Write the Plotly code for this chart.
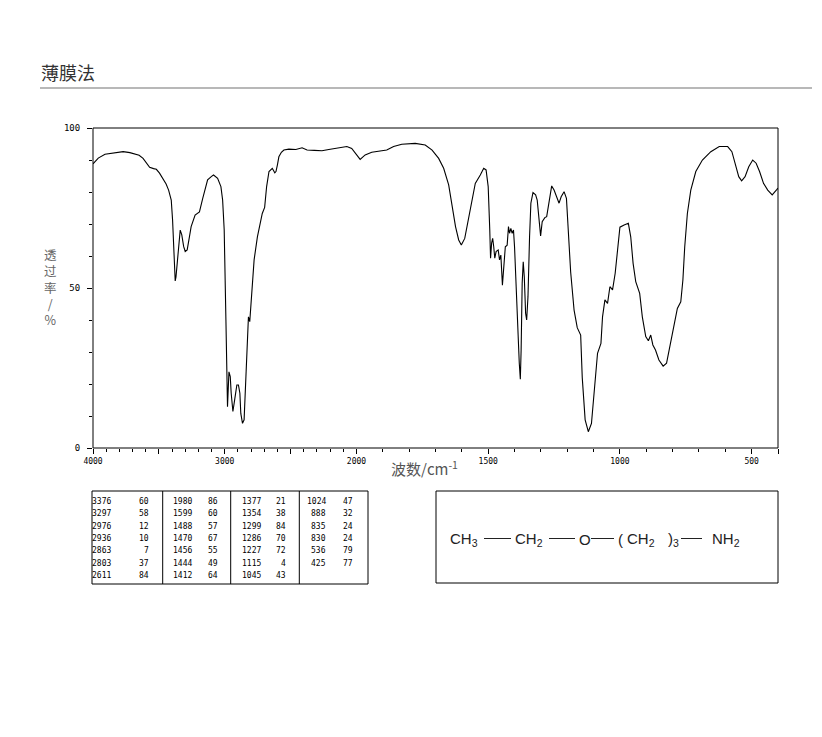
import plotly.graph_objects as go

# IR spectrum (wavenumber cm-1, transmittance %)
wavenumber = [4000, 3990, 3960, 3909, 3840, 3771, 3720, 3683, 3650, 3620,
              3590, 3570, 3540, 3519, 3495, 3469, 3445, 3426, 3406, 3396,
              3386, 3380, 3376, 3370, 3361, 3348, 3338, 3326, 3312, 3300,
              3285, 3270, 3255, 3225, 3192, 3167, 3130, 3100, 3085, 3054,
              3029, 3016, 3004, 2991, 2979, 2968, 2958, 2951, 2938, 2923,
              2908, 2896, 2885, 2878, 2865, 2853, 2840, 2828, 2820, 2810,
              2798, 2777, 2752, 2734, 2715, 2697, 2682, 2664, 2639, 2620,
              2611, 2600, 2589, 2570, 2551, 2513, 2460, 2413, 2375, 2320,
              2262, 2210, 2161, 2110, 2073, 2036, 2010, 1986, 1967, 1942,
              1885, 1859, 1828, 1777, 1739, 1713, 1688, 1669, 1650, 1637,
              1624, 1612, 1602, 1589, 1574, 1559, 1549, 1530, 1517, 1508,
              1500, 1494, 1491, 1487, 1483, 1479, 1475, 1470, 1462, 1457,
              1452, 1446, 1441, 1435, 1428, 1423, 1419, 1414, 1409, 1404,
              1400, 1394, 1387, 1382, 1378, 1375, 1371, 1367, 1363, 1358,
              1354, 1349, 1343, 1338, 1330, 1320, 1314, 1307, 1301, 1295,
              1285, 1278, 1269, 1259, 1250, 1241, 1231, 1223, 1212, 1203,
              1196, 1187, 1174, 1162, 1149, 1143, 1132, 1120, 1108, 1098,
              1085, 1072, 1066, 1057, 1047, 1038, 1028, 1018, 1009, 1000,
              984, 968, 959, 950, 940, 925, 915, 902, 892, 883,
              875, 865, 852, 836, 823, 808, 795, 782, 769, 761,
              754, 744, 731, 712, 687, 655, 623, 591, 575, 562,
              549, 538, 525, 511, 496, 483, 470, 455, 439, 422,
              413, 404, 400]
transmittance = [88.8, 89.2, 90.6, 91.8, 92.2, 92.6, 92.3, 92.0, 91.5, 90.5,
                 88.8, 87.7, 87.3, 87.1, 85.9, 84.3, 82.5, 80.6, 77.5, 71.3,
                 62.9, 56.0, 52.2, 53.5, 57.7, 64.5, 68.1, 66.6, 63.0, 61.4,
                 61.9, 65.5, 69.2, 72.8, 73.8, 78.0, 83.8, 84.9, 85.3, 84.3,
                 81.7, 77.5, 68.1, 40.0, 12.9, 23.8, 22.3, 17.1, 11.4, 15.5,
                 19.7, 19.7, 17.1, 10.8, 7.7, 8.8, 20.2, 33.8, 41.0, 39.5,
                 47.3, 58.8, 66.0, 70.2, 73.3, 75.2, 81.7, 86.4, 87.4, 86.0,
                 86.4, 88.5, 91.0, 92.4, 93.1, 93.4, 93.3, 93.8, 93.1, 93.0,
                 92.9, 93.3, 93.6, 93.8, 94.2, 93.6, 92.1, 90.2, 91.6, 92.4,
                 93.1, 94.2, 94.9, 95.2, 94.7, 93.1, 90.5, 87.4, 82.2, 75.4,
                 69.2, 65.0, 63.4, 65.5, 72.3, 78.5, 82.7, 85.3, 87.4, 86.9,
                 81.7, 68.1, 59.3, 64.0, 65.5, 62.9, 59.3, 61.4, 61.9, 58.8,
                 60.3, 50.9, 57.7, 62.9, 63.4, 69.2, 67.1, 68.6, 67.1, 68.1,
                 62.9, 49.4, 34.8, 26.5, 21.5, 30.6, 51.5, 58.2, 53.5, 42.1,
                 40.0, 47.3, 66.0, 76.5, 79.8, 79.1, 77.5, 72.3, 66.3, 70.7,
                 72.0, 72.3, 77.5, 81.9, 80.6, 78.5, 76.5, 78.5, 80.1, 78.0,
                 69.2, 55.0, 43.1, 37.6, 35.3, 22.0, 8.8, 5.1, 7.7, 18.1,
                 29.6, 32.7, 41.0, 46.3, 45.2, 50.4, 49.4, 54.6, 62.9, 69.0,
                 69.7, 70.2, 66.0, 57.7, 52.0, 48.3, 41.0, 34.8, 33.5, 35.3,
                 32.2, 30.6, 27.5, 25.6, 26.5, 32.7, 39.0, 43.6, 45.7, 52.5,
                 62.9, 73.3, 80.6, 86.4, 90.0, 92.6, 94.2, 94.2, 92.6, 88.4,
                 84.8, 83.5, 84.8, 87.9, 90.0, 89.0, 86.4, 82.7, 80.6, 79.1,
                 79.8, 80.8, 81.2]

# peak table
peak_wn = [3376, 3297, 2976, 2936, 2863, 2803, 2611,
           1980, 1599, 1488, 1470, 1456, 1444, 1412,
           1377, 1354, 1299, 1286, 1227, 1115, 1045,
           1024, 888, 835, 830, 536, 425]
peak_t = [60, 58, 12, 10, 7, 37, 84,
          86, 60, 57, 67, 55, 49, 64,
          21, 38, 84, 70, 72, 4, 43,
          47, 32, 24, 24, 79, 77]

x_labels = [4000, 3000, 2000, 1500, 1000, 500]
x_major = [4000, 3500, 3000, 2500, 2000, 1500, 1000, 500, 400]
x_minor = list(range(3900, 400, -100))
y_labels = [0, 50, 100]
y_minor = list(range(10, 100, 10))


# spectrum axis is compressed 2:1 above 2000 cm-1
def to_axis(w):
    if w >= 2000:
        return (4000 - w) * 0.5
    return 1000 + (2000 - w)


# page body adds an 8px margin, so the figure is drawn 8px smaller
PAD = 8
W, H = 822 - PAD, 737 - PAD
L, R, T, B = 93, 778, 128, 448


def xp(px):
    return (px - L) / (R - L)


def yp(py):
    return (B - py) / (B - T)


fig = go.Figure()
fig.add_trace(go.Scatter(x=[to_axis(w) for w in wavenumber], y=transmittance,
                         mode="lines", line=dict(color="black", width=1.1),
                         hoverinfo="skip"))

fig.update_xaxes(range=[to_axis(4000), to_axis(400)], showgrid=False, zeroline=False,
                 tickmode="array", tickvals=[to_axis(w) for w in x_major],
                 ticktext=[str(w) if w in x_labels else " " for w in x_major],
                 ticks="outside", ticklen=5, tickwidth=1, tickcolor="black",
                 tickfont=dict(family="DejaVu Sans Mono", size=8, color="black"),
                 minor=dict(tickmode="array", tickvals=[to_axis(w) for w in x_minor],
                            ticks="outside", ticklen=3, tickwidth=1, tickcolor="black"))
fig.update_yaxes(range=[0, 100], showgrid=False, zeroline=False,
                 tickmode="array", tickvals=y_labels, ticktext=[str(v) for v in y_labels],
                 ticks="outside", ticklen=5, tickwidth=1, tickcolor="black",
                 ticklabelstandoff=5,
                 tickfont=dict(family="DejaVu Sans Mono", size=9, color="black"),
                 minor=dict(tickmode="array", tickvals=y_minor,
                            ticks="outside", ticklen=3, tickwidth=1, tickcolor="black"))

shapes = []
# plot frame
shapes.append(dict(type="rect", xref="paper", yref="paper", x0=0, x1=1, y0=0, y1=1,
                   line=dict(color="black", width=1)))
# title underline
shapes.append(dict(type="line", xref="paper", yref="paper", x0=xp(40), x1=xp(812),
                   y0=yp(88), y1=yp(88), line=dict(color="#a0a0a0", width=1.5)))

annotations = []
annotations.append(dict(text="薄膜法", xref="paper", yref="paper", x=xp(39), y=yp(72),
                        xanchor="left", yanchor="middle", showarrow=False,
                        font=dict(family="Noto Sans CJK SC", size=18, color="#333333")))
annotations.append(dict(text="波数/cm<sup>-1</sup>", xref="paper", yref="paper",
                        x=xp(424), y=yp(468), xanchor="center", yanchor="middle",
                        showarrow=False,
                        font=dict(family="Noto Sans CJK SC", size=15, color="#555555")))
# vertical y label, stacked glyphs
annotations.append(dict(text="透<br>过<br>率<br>/<br>%", xref="paper", yref="paper",
                        x=xp(50), y=yp(287), xanchor="center", yanchor="middle",
                        showarrow=False, align="center",
                        font=dict(family="Noto Sans CJK SC", size=12.5, color="#666666")))

# peak table
tbl_left = [92, 162.7, 230.7, 299.3]
wn_off = [21, 31, 32, 29]
t_off = [59, 57, 57, 56]
shapes.append(dict(type="rect", xref="paper", yref="paper", x0=xp(92), x1=xp(368),
                   y0=yp(584), y1=yp(491), line=dict(color="black", width=1)))
for cx in tbl_left[1:]:
    shapes.append(dict(type="line", xref="paper", yref="paper", x0=xp(cx), x1=xp(cx),
                       y0=yp(584), y1=yp(491), line=dict(color="black", width=1)))
tbl_font = dict(family="DejaVu Sans Mono", size=8, color="black")
for i, (w, t) in enumerate(zip(peak_wn, peak_t)):
    col, row = i // 7, i % 7
    ry = 501.5 + row * 12.3
    annotations.append(dict(text=str(w), xref="paper", yref="paper",
                            x=xp(tbl_left[col] + wn_off[col]), y=yp(ry),
                            xanchor="right", yanchor="middle", showarrow=False, font=tbl_font))
    annotations.append(dict(text=str(t), xref="paper", yref="paper",
                            x=xp(tbl_left[col] + t_off[col]), y=yp(ry),
                            xanchor="right", yanchor="middle", showarrow=False, font=tbl_font))

# structure box
shapes.append(dict(type="rect", xref="paper", yref="paper", x0=xp(436), x1=xp(778),
                   y0=yp(583), y1=yp(491), line=dict(color="black", width=1)))
formula_font = dict(family="Liberation Sans", size=15, color="#222222")
for txt, fx in [("CH<sub>3</sub>", 448), ("CH<sub>2</sub>", 513), ("O", 577),
                ("(", 616), ("CH<sub>2</sub>", 625), (")<sub>3</sub>", 666), ("NH<sub>2</sub>", 710)]:
    annotations.append(dict(text=txt, xref="paper", yref="paper", x=xp(fx), y=yp(539),
                            xanchor="left", yanchor="middle", showarrow=False, font=formula_font))
for x0, x1 in [(484, 511), (549, 575), (591, 614), (681, 702)]:
    shapes.append(dict(type="line", xref="paper", yref="paper", x0=xp(x0), x1=xp(x1),
                       y0=yp(538.5), y1=yp(538.5), line=dict(color="#222222", width=1)))

fig.update_layout(width=W, height=H,
                  margin=dict(l=L - PAD, r=W - (R - PAD), t=T - PAD, b=H - (B - PAD)),
                  paper_bgcolor="white", plot_bgcolor="white", showlegend=False,
                  shapes=shapes, annotations=annotations)

fig.write_html("out.html")
